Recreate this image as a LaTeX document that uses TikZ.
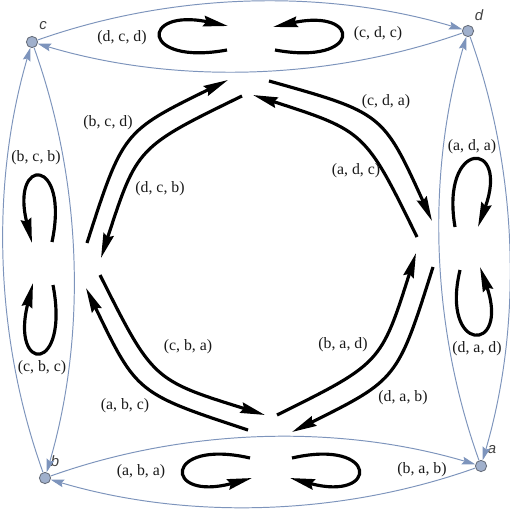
\documentclass[tikz,border=0pt]{standalone}
\usepackage{fontspec}
\setmainfont{Liberation Serif}
\newfontfamily\vfont{Liberation Sans}
\usetikzlibrary{arrows.meta,calc}
\definecolor{edgeblue}{RGB}{125,148,188}
\definecolor{vfill}{RGB}{160,176,204}
\definecolor{vborder}{RGB}{105,112,125}
\newcommand{\bluebend}[2]{\draw[bedge] (#1) .. controls ($(#1)!0.342!18:(#2)$) and ($(#2)!0.342!-18:(#1)$) .. (#2);}
\begin{document}
\begin{tikzpicture}[x=0.02cm,y=-0.02cm,
  vert/.style={circle,fill=vfill,draw=vborder,line width=0.5pt,minimum size=6.4pt,inner sep=0pt},
  vlab/.style={font=\vfont\itshape\fontsize{8.5}{9}\selectfont,text=black!75,inner sep=0pt},
  elab/.style={font=\fontsize{9}{10}\selectfont,text=black!90,inner sep=0pt},
  bedge/.style={draw=edgeblue,line width=0.55pt,-{Stealth[length=7.5pt,width=4.4pt,inset=1.2pt,fill=edgeblue]}},
  barc/.style={line width=1.8pt,-{Stealth[length=14pt,width=6pt,inset=1.5pt]}},
]
\useasboundingbox (0,0) rectangle (510,510);
\fill[white] (0,0) rectangle (510,510);
% vertices
\node[vert] (c) at (32,42) {};
\node[vert] (d) at (468,31) {};
\node[vert] (a) at (481,466) {};
\node[vert] (b) at (45,478) {};
\node[vlab] (lc) at (43,26) {c};
\node[vlab] (ld) at (479,15) {d};
\node[vlab] (la) at (492,450) {a};
\node[vlab] (lb) at (55,461) {b};
% blue edges
\bluebend{c}{d}
\bluebend{d}{a}
\bluebend{a}{b}
\bluebend{b}{c}
\bluebend{d}{c}
\bluebend{a}{d}
\bluebend{b}{a}
\bluebend{c}{b}
% black arcs
\coordinate (a1s) at (87,243);  \coordinate (a1e) at (228,80);
\coordinate (a2s) at (242,96);  \coordinate (a2e) at (101,258);
\coordinate (a3s) at (269,81);  \coordinate (a3e) at (432,221);
\coordinate (a4s) at (417,237); \coordinate (a4e) at (253,95);
\coordinate (a5s) at (433,267); \coordinate (a5e) at (292,432);
\coordinate (a6s) at (277,415); \coordinate (a6e) at (416,253);
\coordinate (a7s) at (248,430); \coordinate (a7e) at (86,288);
\coordinate (a8s) at (100,275); \coordinate (a8e) at (265,415);
\draw[barc] (a1s) .. controls ($(a1s)!0.5432!23:(a1e)$) .. (a1e);
\draw[barc] (a3s) .. controls ($(a3s)!0.55!25:(a3e)$) .. (a3e);
\draw[barc] (a5s) .. controls ($(a5s)!0.5432!23:(a5e)$) .. (a5e);
\draw[barc] (a7s) .. controls ($(a7s)!0.5432!23:(a7e)$) .. (a7e);
\draw[barc] (a2s) .. controls ($(a2s)!0.5432!-23:(a2e)$) .. (a2e);
\draw[barc] (a4s) .. controls ($(a4s)!0.5432!-23:(a4e)$) .. (a4e);
\draw[barc] (a6s) .. controls ($(a6s)!0.5432!-23:(a6e)$) .. (a6e);
\draw[barc] (a8s) .. controls ($(a8s)!0.5432!-23:(a8e)$) .. (a8e);
% loops
\coordinate (tl1) at (227,50); \coordinate (tl2) at (228,26);
\coordinate (tr1) at (275,50); \coordinate (tr2) at (273,27);
\coordinate (bl1) at (250,458); \coordinate (bl2) at (252,478);
\coordinate (br1) at (292,458); \coordinate (br2) at (290,478);
\coordinate (lu1) at (52,242); \coordinate (lu2) at (32,243);
\coordinate (ll1) at (53,285); \coordinate (ll2) at (33,283);
\coordinate (ru1) at (455,227); \coordinate (ru2) at (478,227);
\coordinate (rl1) at (460,270); \coordinate (rl2) at (480,267);
\draw[barc] (tl1) .. controls (140,66) and (140,8) .. (tl2);
\draw[barc] (tr1) .. controls (362,66) and (362,8) .. (tr2);
\draw[barc] (bl1) .. controls (163,438) and (163,502) .. (bl2);
\draw[barc] (br1) .. controls (379,438) and (379,502) .. (br2);
\draw[barc] (lu1) .. controls (70,156) and (10,156) .. (lu2);
\draw[barc] (ll1) .. controls (70,374) and (10,374) .. (ll2);
\draw[barc] (ru1) .. controls (440,139) and (510,139) .. (ru2);
\draw[barc] (rl1) .. controls (440,354) and (510,354) .. (rl2);
% edge labels
\node[elab] (t1) at (122,38) {(d, c, d)};
\node[elab] (t2) at (378,34) {(c, d, c)};
\node[elab] (t3) at (386,102) {(c, d, a)};
\node[elab] (t4) at (108,123) {(b, c, d)};
\node[elab] (t5) at (160,189) {(d, c, b)};
\node[elab] (t6) at (356,171) {(a, d, c)};
\node[elab] (t7) at (36,158) {(b, c, b)};
\node[elab] (t8) at (42,368) {(c, b, c)};
\node[elab] (t9) at (472,147) {(a, d, a)};
\node[elab] (t10) at (477,349) {(d, a, d)};
\node[elab] (t11) at (188,347) {(c, b, a)};
\node[elab] (t12) at (125,406) {(a, b, c)};
\node[elab] (t13) at (141,472) {(a, b, a)};
\node[elab] (t14) at (343,345) {(b, a, d)};
\node[elab] (t15) at (403,398) {(d, a, b)};
\node[elab] (t16) at (422,470) {(b, a, b)};
\end{tikzpicture}
\end{document}
